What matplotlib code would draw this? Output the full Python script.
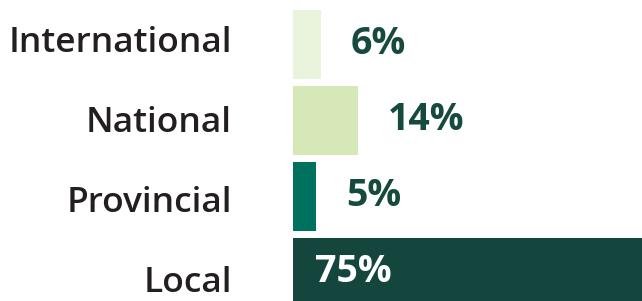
import numpy as np
import matplotlib
matplotlib.use("Agg")
import matplotlib.pyplot as plt

# data, top to bottom
categories = ["International", "National", "Provincial", "Local"]
shares = [6, 14, 5, 75]
bar_colors = ["#eaf3dc", "#d6e7b8", "#00715f", "#15463e"]

plt.rcParams['font.family'] = ['Open Sans', 'DejaVu Sans']

W, H = 642, 301
fig = plt.figure(figsize=(W / 100, H / 100), dpi=100)
ax = fig.add_axes([293 / W, 0, 1 - 293 / W, 1])

ypos = np.arange(len(categories))
ax.barh(ypos, shares, height=0.9, color=bar_colors)

ax.set_xlim(0, 75)
ax.set_ylim(3.377, -0.584)
ax.set_xticks([])
ax.set_yticks([])
for s in ax.spines.values():
    s.set_visible(False)

# category names sit on a slightly wider pitch than the bars
for i, name in enumerate(categories):
    fig.text(232 / W, 1 - (43 + 80 * i) / H, name, ha="right", va="center",
             fontsize=25.5, fontweight="semibold", color="#231f20")

for y, v in zip(ypos, shares):
    if v > 50:
        ax.annotate(f"{v}%", (0, y), xytext=(22, 0), textcoords="offset pixels",
                    ha="left", va="center", fontsize=27, fontweight="bold",
                    color="white")
    else:
        ax.annotate(f"{v}%", (v, y), xytext=(30, 0), textcoords="offset pixels",
                    ha="left", va="center", fontsize=27, fontweight="bold",
                    color="#174a3f")

fig.savefig("out.png", dpi=100)
